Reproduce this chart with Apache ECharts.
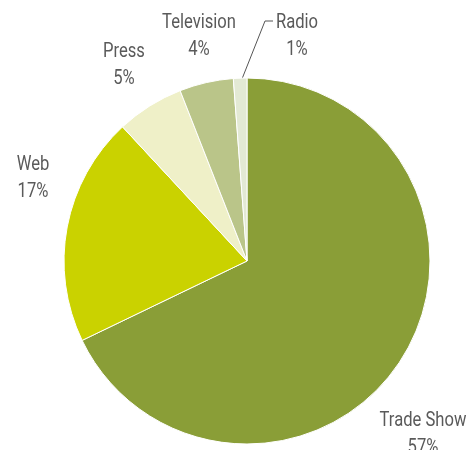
<!DOCTYPE html>
<html>
<head>
<meta charset="utf-8">
<script src="https://cdn.jsdelivr.net/npm/echarts@6/dist/echarts.min.js"></script>
<style>
  html, body { margin: 0; padding: 0; background: #fff; }
  #chart { width: 475px; height: 450px; }
</style>
</head>
<body>
<div id="chart"></div>
<script>
// Marketing channel shares
const channels = ['Trade Show', 'Web', 'Press', 'Television', 'Radio'];
const shares = [57, 17, 5, 4, 1];
const sliceColors = ['#8a9e37', '#cad200', '#eff0c8', '#bac589', '#e3e9d4'];

// Pie geometry
const CX = 247, CY = 261, R = 183;
// Centre of each label block
const labelAnchors = [[423, 434], [33, 178], [124, 65], [199, 36], [297, 36]];
// Horizontal squeeze giving the labels a condensed look
const LABEL_SQUEEZE = 0.83;

const total = shares.reduce((a, b) => a + b, 0);
function midAngle(i) {
  let s = 0;
  for (let k = 0; k < i; k++) s += shares[k];
  return (s + shares[i] / 2) / total * 2 * Math.PI;
}

const chart = echarts.init(document.getElementById('chart'), null, { renderer: 'canvas' });
chart.setOption({
  animation: false,
  series: [{
    type: 'pie',
    center: [CX, CY],
    radius: R,
    startAngle: 90,
    clockwise: true,
    avoidLabelOverlap: false,
    emphasis: { disabled: true },
    itemStyle: { borderColor: '#ffffff', borderWidth: 1 },
    label: {
      show: true,
      formatter: '{b}\n{c}%',
      fontFamily: "'Liberation Sans Narrow', 'Roboto', sans-serif",
      fontSize: 20,
      lineHeight: 27,
      color: '#5a5a5a',
      align: 'center'
    },
    labelLine: { show: false },
    data: channels.map((name, i) => ({
      name,
      value: shares[i],
      itemStyle: { color: sliceColors[i] },
      labelLine: name === 'Radio'
        ? { show: true, lineStyle: { color: '#555555', width: 1 } }
        : { show: false }
    })),
    labelLayout(p) {
      const i = p.dataIndex;
      const [x, y] = labelAnchors[i];
      const out = { x, y, align: 'center', verticalAlign: 'middle' };
      if (channels[i] === 'Radio') {
        const a = midAngle(i);
        out.labelLinePoints = [
          [CX + (R - 5) * Math.sin(a), CY - (R - 5) * Math.cos(a)],
          [265, 21],
          [273, 21]
        ];
      }
      return out;
    }
  }]
});

// Narrow the slice labels horizontally
try {
  const seriesData = chart.getModel().getSeriesByIndex(0).getData();
  seriesData.each(idx => {
    const el = seriesData.getItemGraphicEl(idx);
    const text = el && el.getTextContent && el.getTextContent();
    if (text) {
      text.scaleX = LABEL_SQUEEZE;
      text.markRedraw();
    }
  });
  chart.getZr().refreshImmediately();
} catch (e) { /* keep default labels */ }
</script>
</body>
</html>
